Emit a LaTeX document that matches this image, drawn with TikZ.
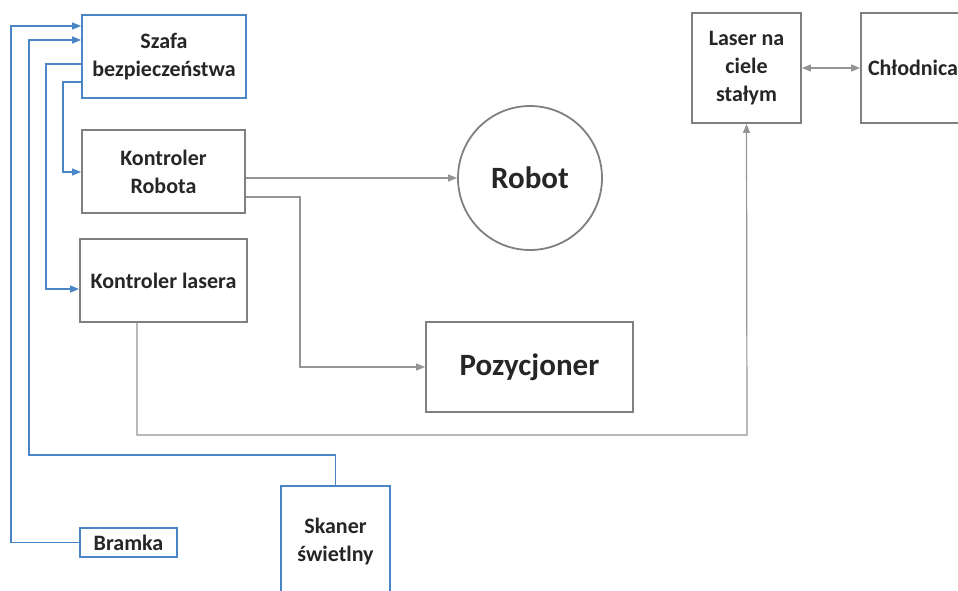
\documentclass[tikz,border=0pt]{standalone}
\usepackage{fontspec}
\setmainfont{Carlito}
\usetikzlibrary{arrows.meta,calc}
\definecolor{boxgray}{HTML}{808080}
\definecolor{linegray}{HTML}{949494}
\definecolor{blueline}{HTML}{4A86C6}
\definecolor{txt}{HTML}{262626}
\begin{document}
\begin{tikzpicture}[x=1pt,y=-1pt,
  box/.style={draw=boxgray,line width=1.8pt,fill=white,align=center,
    font=\bfseries\fontsize{22}{28}\selectfont,text=txt,inner sep=0pt},
  bbox/.style={box,draw=blueline},
  gline/.style={draw=linegray,line width=1.2pt,-{Triangle[length=9pt,width=7pt]}},
  bline/.style={draw=blueline,line width=1.2pt,-{Triangle[length=9pt,width=7pt]}}]
\useasboundingbox (0,0) rectangle (958,590);
\begin{scope}
\clip (0,0) rectangle (958,590);
% blocks
\node[bbox,minimum width=164pt,minimum height=83pt] (szafa) at (164,56.5) {Szafa\\bezpiecze\'nstwa};
\node[box,minimum width=163pt,minimum height=83pt] (krob) at (163.5,171.5) {Kontroler\\Robota};
\node[box,minimum width=167pt,minimum height=83pt] (klas) at (163.5,280.5) {Kontroler lasera};
\node[box,circle,minimum size=144pt,font=\bfseries\fontsize{31}{36}\selectfont] (robot) at (530,178) {Robot};
\node[box,minimum width=207pt,minimum height=90pt,font=\bfseries\fontsize{31}{36}\selectfont] (poz) at (529.5,367) {Pozycjoner};
\node[box,minimum width=109pt,minimum height=110pt] (laser) at (746.5,68) {Laser na\\ciele\\sta\l ym};
\node[box,minimum width=120pt,minimum height=110pt,text width=120pt,align=left] (chl) at (921,68) {\hspace{7pt}Ch\l odnica};
\node[bbox,minimum width=97pt,minimum height=29pt] (bramka) at (128.5,542.5) {Bramka};
\node[bbox,minimum width=109pt,minimum height=110pt] (skaner) at (335.5,541) {Skaner\\\'swietlny};
% robot controller outputs
\draw[gline] (krob.east |- 0,178) -- (robot.west);
\draw[gline] (krob.east |- 0,197) -- (300,197) |- (poz.west);
% laser controller to laser source
\draw[gline] (klas.south -| 137,0) |- (747,435) -- (laser.south);
% laser <-> chiller
\draw[draw=linegray,line width=1.2pt,{Triangle[length=9pt,width=7pt]}-{Triangle[length=9pt,width=7pt]}] (laser.east) -- (chl.west);
% safety cabinet to controllers
\draw[bline] (szafa.west |- 0,82) -| (63,172) -- (krob.west |- 0,172);
\draw[bline] (szafa.west |- 0,64) -| (46,289) -- (klas.west |- 0,289);
% gate and scanner to safety cabinet
\draw[bline] (bramka.west) -| (11,26) -- (szafa.west |- 0,26);
\draw[bline] (skaner.north) |- (29,455) -- (29,40) -- (szafa.west |- 0,40);
\end{scope}
\end{tikzpicture}
\end{document}
